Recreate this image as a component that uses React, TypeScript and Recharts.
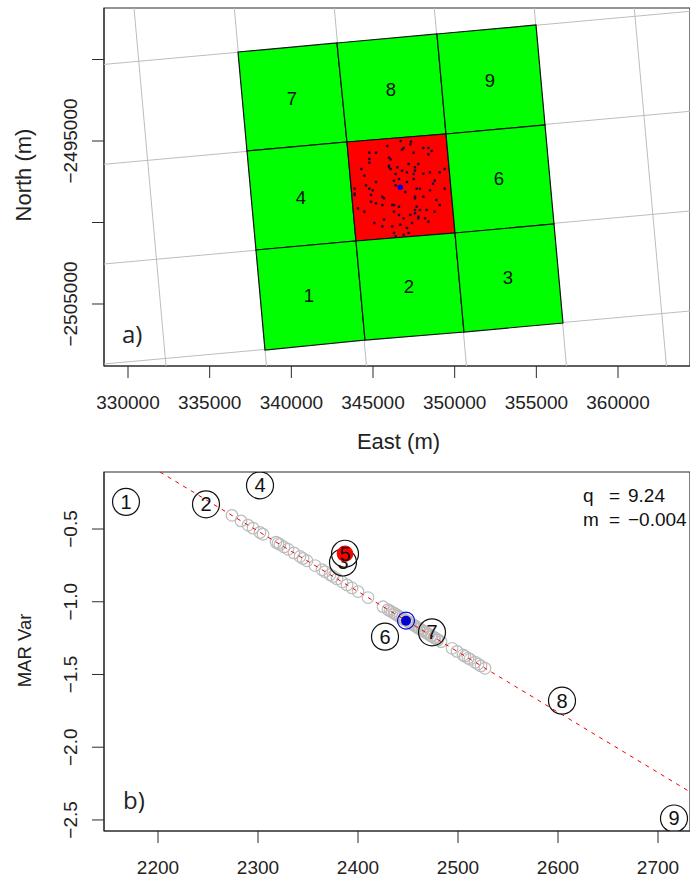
import { ScatterChart, Scatter, XAxis, YAxis, ReferenceArea } from 'recharts';

const FONT = '"Liberation Sans", Helvetica, Arial, sans-serif';
const INK = '#2b2b2b';

// panel a: map, metres
const eastTicks = [330000, 335000, 340000, 345000, 350000, 355000, 360000];
const northTicks = [-2505000, -2500000, -2495000, -2490000];
const northLabelled = [-2505000, -2495000];

const nodeEast = [
  [336734, 342795, 348917, 354978],
  [337285, 343407, 349468, 355529],
  [337836, 343958, 350019, 356080],
  [338387, 344509, 350570, 356631],
];
const nodeNorth = [
  [-2489540, -2488988, -2488436, -2487883],
  [-2495613, -2495061, -2494571, -2494018],
  [-2501687, -2501135, -2500644, -2500092],
  [-2507822, -2507209, -2506718, -2506166],
];

const graticuleNorthSouth = [
  [330367, 332326],
  [336508, 338479],
  [342630, 344601],
  [348752, 350723],
  [354874, 356845],
  [360996, 362967],
];
const graticuleEastWest = [
  [-2490301, -2487043],
  [-2496429, -2493178],
  [-2502546, -2499295],
  [-2508681, -2505430],
];

const cellNames = ['1', '2', '3', '4', '6', '7', '8', '9'];
const cellEast = [341081, 347203, 353264, 340591, 352713, 340040, 346101, 352162];
const cellNorth = [-2504509, -2503957, -2503405, -2498436, -2497270, -2492362, -2491810, -2491258];

const sampleEast = [
  345877, 346694, 347326, 347286, 346877, 346775, 348082, 348388, 348592, 348388, 347490, 344775, 345183,
  344775, 344775, 345979, 346081, 345979, 345979, 346081, 346490, 347183, 347775, 347571, 347571, 347490,
  348082, 348490, 349082, 349388, 346775, 347081, 346387, 344285, 344469, 345183, 346285, 346592, 347081,
  347490, 348775, 348673, 344571, 343877, 344775, 344979, 343877, 343877, 346387, 346979, 347673, 347877,
  348490, 349388, 348082, 347571, 347571, 345571, 345673, 344877, 344877, 345183, 345571, 346183, 346285,
  346592, 348877, 349082, 347673, 347571, 347877, 348286, 348775, 344081, 344469, 346285, 346592, 346877,
  347286, 347571, 347775, 347775, 348184, 348388, 345081, 345673, 345571, 346183, 346673, 347388, 347081,
  346285, 346387, 346877, 347183,
];
const sampleNorth = [
  -2495307, -2495000, -2495041, -2495204, -2495429, -2495532, -2495429, -2495429, -2495613, -2495818, -2495716,
  -2495716, -2495716, -2496104, -2496329, -2496022, -2496125, -2496513, -2496615, -2496718, -2496615, -2496411,
  -2496411, -2496615, -2496820, -2497024, -2497004, -2496922, -2496922, -2496718, -2496820, -2496922, -2497024,
  -2496718, -2497127, -2497515, -2497433, -2497331, -2497515, -2497331, -2497433, -2497617, -2497720, -2497924,
  -2497924, -2498026, -2498231, -2498313, -2497720, -2498129, -2497924, -2497924, -2498026, -2497924, -2498415,
  -2498415, -2498517, -2498415, -2498517, -2498313, -2498722, -2498824, -2498926, -2498926, -2498926, -2499029,
  -2498620, -2498926, -2499029, -2499233, -2499233, -2499233, -2499335, -2499131, -2499335, -2499335, -2499540,
  -2499744, -2499540, -2499438, -2499642, -2499744, -2499744, -2499949, -2500031, -2499826, -2500235, -2500235,
  -2500133, -2500031, -2500337, -2500644, -2500849, -2500746, -2500644,
];
const centreEast = [346670];
const centreNorth = [-2497840];

// panel b: moment ratio plot
const marTicks = [2200, 2300, 2400, 2500, 2600, 2700];
const varTicks = [-2.5, -2.0, -1.5, -1.0, -0.5];
const fitLineMar = [2202, 2732];
const fitLineVar = [-0.108, -2.307];

const sampleMar = [
  2274, 2283, 2290, 2295, 2302, 2305, 2318, 2320, 2322, 2326, 2330, 2336, 2342, 2345, 2349, 2357, 2364, 2367,
  2372, 2375, 2379, 2384, 2389, 2394, 2400, 2410, 2425, 2430, 2432, 2434, 2436, 2437, 2439, 2440, 2442, 2444,
  2446, 2447, 2449, 2450, 2452, 2453, 2455, 2456, 2458, 2459, 2461, 2462, 2464, 2465, 2467, 2468, 2470, 2471,
  2473, 2474, 2476, 2477, 2479, 2480, 2483, 2494, 2499, 2505, 2507, 2510, 2512, 2517, 2520, 2523, 2527,
];
const sampleVar = [
  -0.406, -0.444, -0.473, -0.494, -0.523, -0.536, -0.59, -0.598, -0.606, -0.623, -0.639, -0.664, -0.689, -0.702,
  -0.718, -0.751, -0.78, -0.793, -0.814, -0.826, -0.843, -0.863, -0.884, -0.905, -0.93, -0.971, -1.034, -1.054,
  -1.062, -1.071, -1.079, -1.083, -1.091, -1.096, -1.104, -1.113, -1.121, -1.125, -1.133, -1.137, -1.145, -1.15,
  -1.158, -1.162, -1.17, -1.175, -1.183, -1.187, -1.195, -1.2, -1.208, -1.212, -1.22, -1.225, -1.233, -1.237,
  -1.245, -1.25, -1.258, -1.262, -1.274, -1.32, -1.341, -1.366, -1.374, -1.387, -1.395, -1.416, -1.428, -1.441,
  -1.457,
];
const tileNames = ['1', '2', '3', '4', '5', '6', '7', '8', '9'];
const tileMar = [2168, 2248, 2385, 2302, 2387, 2427, 2474, 2604, 2716];
const tileVar = [-0.314, -0.33, -0.73, -0.2, -0.67, -1.24, -1.21, -1.68, -2.49];
const centreMar = [2448];
const centreVar = [-1.13];

const pairs = (xs: number[], ys: number[]) => xs.map((x, i) => ({ x, y: ys[i] }));
const noMark = () => <g />;

function cellCorners(row: number, col: number) {
  const rows = [row, row, row + 1, row + 1];
  const cols = [col, col + 1, col + 1, col];
  return rows.map((r, i) => ({ x: nodeEast[r][cols[i]], y: nodeNorth[r][cols[i]] }));
}

const gridCells: number[][] = [
  [0, 0], [0, 1], [0, 2],
  [1, 0], [1, 1], [1, 2],
  [2, 0], [2, 1], [2, 2],
];

function filledPolygon(fill: string) {
  return (p: any) => (
    <polygon
      points={p.points.map((q: any) => `${q.x},${q.y}`).join(' ')}
      fill={fill}
      stroke="#111"
      strokeWidth={1.2}
    />
  );
}

function RotatedTick({ x, y, payload, show }: any) {
  if (show && !show.includes(payload.value)) return <g />;
  const label = String(Math.abs(payload.value) < 100 ? payload.value.toFixed(1) : payload.value).replace('-', '\u2212');
  return (
    <text
      x={x - 13}
      y={y}
      transform={`rotate(-90 ${x - 13} ${y})`}
      textAnchor="middle"
      fontFamily={FONT}
      fontSize={19}
      fill="#222"
    >
      {label}
    </text>
  );
}

function FlatTick({ x, y, payload }: any) {
  return (
    <text x={x} y={y + 29} textAnchor="middle" fontFamily={FONT} fontSize={19} fill="#222">
      {payload.value}
    </text>
  );
}

const EAST_DOMAIN = [328530, 364408];
const NORTH_DOMAIN = [-2508804, -2486840];
const MAR_DOMAIN = [2146, 2732];
const VAR_DOMAIN = [-2.576, -0.108];

function MapPanel() {
  return (
    <ScatterChart width={690} height={460} margin={{ top: 8, right: 0, bottom: 0, left: 0 }}>
      <XAxis
        type="number"
        dataKey="x"
        domain={EAST_DOMAIN}
        ticks={eastTicks}
        height={94}
        interval={0}
        allowDataOverflow
        tick={<FlatTick />}
        tickSize={12}
        stroke={INK}
      />
      <YAxis
        type="number"
        dataKey="y"
        domain={NORTH_DOMAIN}
        ticks={northTicks}
        width={104}
        interval={0}
        allowDataOverflow
        tick={<RotatedTick show={northLabelled} />}
        tickSize={12}
        stroke={INK}
      />
      {graticuleNorthSouth.map((g, i) => (
        <Scatter
          key={`ns${i}`}
          data={pairs(g, NORTH_DOMAIN.slice().reverse())}
          line={{ stroke: '#bdbdbd', strokeWidth: 1 }}
          shape={noMark}
          isAnimationActive={false}
        />
      ))}
      {graticuleEastWest.map((g, i) => (
        <Scatter
          key={`ew${i}`}
          data={pairs(EAST_DOMAIN, g)}
          line={{ stroke: '#bdbdbd', strokeWidth: 1 }}
          shape={noMark}
          isAnimationActive={false}
        />
      ))}
      {gridCells.map(([r, c]) => (
        <Scatter
          key={`cell${r}${c}`}
          data={cellCorners(r, c)}
          line={filledPolygon(r === 1 && c === 1 ? '#ff0000' : '#00ff00')}
          shape={noMark}
          isAnimationActive={false}
        />
      ))}
      <Scatter
        data={pairs(cellEast, cellNorth)}
        shape={(p: any) => (
          <text x={p.cx} y={p.cy + 6.5} textAnchor="middle" fontFamily={FONT} fontSize={18.5} fill="#111">
            {cellNames[p.index]}
          </text>
        )}
        isAnimationActive={false}
      />
      <Scatter
        data={pairs(sampleEast, sampleNorth)}
        shape={(p: any) => <rect x={p.cx - 1.2} y={p.cy - 1.2} width={2.4} height={2.4} fill="#16162e" />}
        isAnimationActive={false}
      />
      <Scatter
        data={pairs(centreEast, centreNorth)}
        shape={(p: any) => <circle cx={p.cx} cy={p.cy} r={2.8} fill="#0000e0" />}
        isAnimationActive={false}
      />
      <ReferenceArea
        x1={EAST_DOMAIN[0]}
        x2={EAST_DOMAIN[1]}
        y1={NORTH_DOMAIN[0]}
        y2={NORTH_DOMAIN[1]}
        fill="none"
        stroke={INK}
        strokeWidth={1.2}
      />
      <text x={398.5} y={449} textAnchor="middle" fontFamily={FONT} fontSize={22} fill="#222">
        East (m)
      </text>
      <text x={31} y={175} transform="rotate(-90 31 175)" textAnchor="middle" fontFamily={FONT} fontSize={22} fill="#222">
        North (m)
      </text>
      <text x={122} y={343} fontFamily='"Open Sans", sans-serif' fontSize={24} fill="#222">
        a)
      </text>
    </ScatterChart>
  );
}

function RatioPanel() {
  return (
    <ScatterChart width={690} height={415} margin={{ top: 8, right: 0, bottom: 0, left: 0 }}>
      <XAxis
        type="number"
        dataKey="x"
        domain={MAR_DOMAIN}
        ticks={marTicks}
        height={48}
        interval={0}
        allowDataOverflow
        tick={<FlatTick />}
        tickSize={12}
        stroke={INK}
      />
      <YAxis
        type="number"
        dataKey="y"
        domain={VAR_DOMAIN}
        ticks={varTicks}
        width={104}
        interval={0}
        allowDataOverflow
        tick={<RotatedTick />}
        tickSize={12}
        stroke={INK}
      />
      <Scatter
        data={pairs(sampleMar, sampleVar)}
        shape={(p: any) => <circle cx={p.cx} cy={p.cy} r={5.8} fill="none" stroke="#bcbcbc" strokeWidth={1.2} />}
        isAnimationActive={false}
      />
      <Scatter
        data={pairs(fitLineMar, fitLineVar)}
        line={{ stroke: '#f00000', strokeWidth: 1, strokeDasharray: '4 5' }}
        shape={noMark}
        isAnimationActive={false}
      />
      <Scatter
        data={pairs(centreMar, centreVar)}
        shape={(p: any) => (
          <g>
            <circle cx={p.cx} cy={p.cy} r={8.5} fill="none" stroke="#0000d0" strokeWidth={1.2} />
            <circle cx={p.cx} cy={p.cy} r={5} fill="#0000d0" />
          </g>
        )}
        isAnimationActive={false}
      />
      <Scatter
        data={pairs(tileMar, tileVar)}
        shape={(p: any) => (
          <g>
            {tileNames[p.index] === '5' && <circle cx={p.cx} cy={p.cy} r={8.3} fill="#ff0000" />}
            <circle cx={p.cx} cy={p.cy} r={13.5} fill="none" stroke="#111" strokeWidth={1.2} />
            <text x={p.cx} y={p.cy + 7} textAnchor="middle" fontFamily={FONT} fontSize={20} fill="#111">
              {tileNames[p.index]}
            </text>
          </g>
        )}
        isAnimationActive={false}
      />
      <ReferenceArea
        x1={MAR_DOMAIN[0]}
        x2={MAR_DOMAIN[1]}
        y1={VAR_DOMAIN[0]}
        y2={VAR_DOMAIN[1]}
        fill="none"
        stroke={INK}
        strokeWidth={1.2}
      />
      <text y={38} fontFamily={FONT} fontSize={19} fill="#111">
        <tspan x={583}>q</tspan>
        <tspan x={609}>=</tspan>
        <tspan x={628}>9.24</tspan>
      </text>
      <text y={62} fontFamily={FONT} fontSize={19} fill="#111">
        <tspan x={583}>m</tspan>
        <tspan x={609}>=</tspan>
        <tspan x={628}>{'\u2212'}0.004</tspan>
      </text>
      <text x={31} y={186.5} transform="rotate(-90 31 186.5)" textAnchor="middle" fontFamily={FONT} fontSize={18.5} fill="#222">
        MAR Var
      </text>
      <text x={123} y={345} fontFamily='"Open Sans", sans-serif' fontSize={24} fill="#222">
        b)
      </text>
    </ScatterChart>
  );
}

export default function App() {
  return (
    <div style={{ position: 'absolute', left: 0, top: 0, width: 690, height: 879, background: '#fff', overflow: 'hidden' }}>
      <div style={{ position: 'absolute', left: 0, top: 0 }}>
        <MapPanel />
      </div>
      <div style={{ position: 'absolute', left: 0, top: 464 }}>
        <RatioPanel />
      </div>
    </div>
  );
}
